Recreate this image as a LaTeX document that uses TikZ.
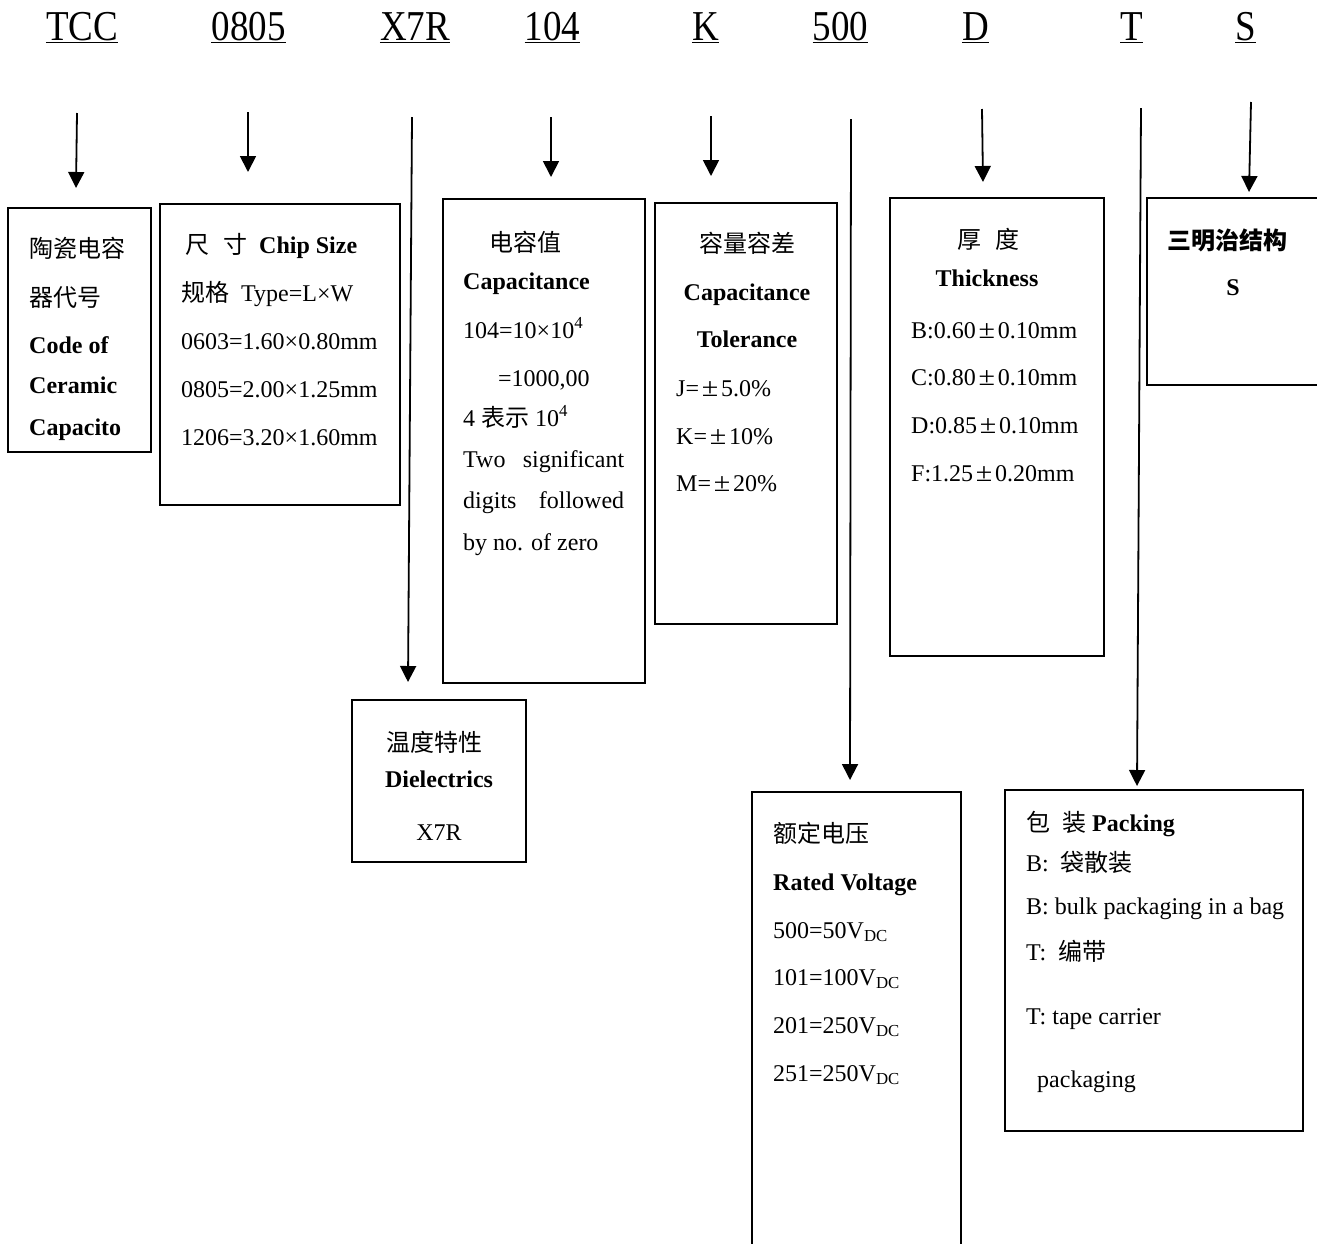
\documentclass[tikz,border=0pt]{standalone}
\usepackage{fontspec}
\usepackage{graphicx}
\setmainfont{Liberation Serif}
\newfontfamily\cjk{Noto Sans CJK SC}
\usetikzlibrary{arrows.meta}
\newcommand\bodyfs{\fontsize{24}{24}\selectfont}
\newcommand\pmw{\makebox[22pt]{\scalebox{1.25}[1.1]{±}}}
\newcommand\toplab[1]{\scalebox{1}[1.15]{#1}}
\begin{document}
\begin{tikzpicture}[x=1pt,y=-1pt,
  box/.style={draw, line width=1.6pt, inner sep=0pt, rectangle},
  tl/.style={anchor=base west, inner sep=0pt, font=\bodyfs},
  tc/.style={anchor=base, inner sep=0pt, font=\bodyfs},
  toplabel/.style={anchor=base, inner sep=0pt, font=\fontsize{37}{37}\selectfont},
  ul/.style={line width=1.8pt},
  arr/.style={line width=1.8pt, -{Triangle[length=16pt,width=16pt]}}
]
\useasboundingbox (0,0) rectangle (1317,1243);
\clip (0,0) rectangle (1317,1243);
\fill[white] (0,0) rectangle (1317,1243);

% top code labels
\node[toplabel] (lTCC) at (82,40) {\toplab{TCC}};
\node[toplabel] (l0805) at (248.5,40) {\toplab{0805}};
\node[toplabel] (lX7R) at (415,40) {\toplab{X7R}};
\node[toplabel] (l104) at (552.5,40) {\toplab{104}};
\node[toplabel] (lK) at (705.5,40) {\toplab{K}};
\node[toplabel] (l500) at (840.5,40) {\toplab{500}};
\node[toplabel] (lD) at (975.5,40) {\toplab{D}};
\node[toplabel] (lT) at (1131.5,40) {\toplab{T}};
\node[toplabel] (lS) at (1245.5,40) {\toplab{S}};
\foreach \n in {lTCC,l0805,lX7R,l104,lK,l500,lD,lT,lS}
  \draw[ul] ([yshift=-2.5pt]\n.base west) -- ([yshift=-2.5pt]\n.base east);

% boxes
\node[box, minimum width=143, minimum height=244] (bA) at (79.5,330) {};
\node[box, minimum width=240, minimum height=301] (bB) at (280,354.5) {};
\node[box, minimum width=202, minimum height=484] (bC) at (544,441) {};
\node[box, minimum width=182, minimum height=421] (bD) at (746,413.5) {};
\node[box, minimum width=214, minimum height=458] (bE) at (997,427) {};
\node[box, minimum width=193, minimum height=187] (bF) at (1243.5,291.5) {};
\node[box, minimum width=174, minimum height=162] (bG) at (439,781) {};
\node[box, minimum width=209, minimum height=488] (bH) at (856.5,1036) {};
\node[box, minimum width=298, minimum height=341] (bI) at (1154,960.5) {};

% arrows
\coordinate (s1) at (77,113);   \coordinate (e1) at (76,188);
\coordinate (s2) at (248,112);  \coordinate (e2) at (248,172);
\coordinate (s3) at (412,117);  \coordinate (e3) at (408,682);
\coordinate (s4) at (551,117);  \coordinate (e4) at (551,177);
\coordinate (s5) at (711,116);  \coordinate (e5) at (711,176);
\coordinate (s6) at (851,119);  \coordinate (e6) at (850,780);
\coordinate (s7) at (982,109);  \coordinate (e7) at (983,182);
\coordinate (s8) at (1141,108); \coordinate (e8) at (1137,786);
\coordinate (s9) at (1251,102); \coordinate (e9) at (1249,192);
\foreach \i in {1,...,9} \draw[arr] (s\i) -- (e\i);

% box A
\node[tl] (a1) at (29,257) {\cjk 陶瓷电容};
\node[tl] (a2) at (29,306) {\cjk 器代号};
\node[tl] (a3) at (29,353) {\textbf{Code of}};
\node[tl] (a4) at (29,393) {\textbf{Ceramic}};
\node[tl] (a5) at (29,435) {\textbf{Capacito}};

% box B
\node[tl] (b1) at (185,253) {{\cjk 尺}\hspace{14pt}{\cjk 寸}\hspace{12pt}\textbf{Chip Size}};
\node[tl] (b2) at (181,301) {{\cjk 规格}\hspace{12pt}Type=L×W};
\node[tl] (b3) at (181,349) {0603=1.60×0.80mm};
\node[tl] (b4) at (181,397) {0805=2.00×1.25mm};
\node[tl] (b5) at (181,445) {1206=3.20×1.60mm};

% box C
\node[tl] (c1) at (489,251) {\cjk 电容值};
\node[tl] (c2) at (463,289) {\textbf{Capacitance}};
\node[tl] (c3) at (463,338) {104=10×10\textsuperscript{4}};
\node[tl] (c4) at (498,386) {=1000,00};
\node[tl] (c5) at (463,426) {4 {\cjk 表示} 10\textsuperscript{4}};
\node[tl] (c6) at (463,467) {\hbox to 161pt{Two\hfill significant}};
\node[tl] (c7) at (463,508) {\hbox to 161pt{digits\hfill followed}};
\node[tl] (c8) at (463,550) {by no. of zero};

% box D
\node[tc] (d1) at (747,252) {\cjk 容量容差};
\node[tc] (d2) at (747,300) {\textbf{Capacitance}};
\node[tc] (d3) at (747,347) {\textbf{Tolerance}};
\node[tl] (d4) at (676,396) {J=\pmw5.0\%};
\node[tl] (d5) at (676,444) {K=\pmw10\%};
\node[tl] (d6) at (676,491) {M=\pmw20\%};

% box E
\node[tc] (e1t) at (988,248) {{\cjk 厚}\hspace{14pt}{\cjk 度}};
\node[tc] (e2t) at (987,286) {\textbf{Thickness}};
\node[tl] (e3t) at (911,338) {B:0.60\pmw0.10mm};
\node[tl] (e4t) at (911,385) {C:0.80\pmw0.10mm};
\node[tl] (e5t) at (911,433) {D:0.85\pmw0.10mm};
\node[tl] (e6t) at (911,481) {F:1.25\pmw0.20mm};

% box F
\node[tl] (f1) at (1167,249) {\cjk\bfseries 三明治结构};
\node[tc] (f2) at (1233,295) {\textbf{S}};

% box G
\node[tc] (g1) at (434,751) {\cjk 温度特性};
\node[tc] (g2) at (439,787) {\textbf{Dielectrics}};
\node[tc] (g3) at (439,840) {X7R};

% box H
\node[tl] (h1) at (773,842) {\cjk 额定电压};
\node[tl] (h2) at (773,890) {\textbf{Rated Voltage}};
\node[tl] (h3) at (773,938) {500=50V\textsubscript{DC}};
\node[tl] (h4) at (773,985) {101=100V\textsubscript{DC}};
\node[tl] (h5) at (773,1033) {201=250V\textsubscript{DC}};
\node[tl] (h6) at (773,1081) {251=250V\textsubscript{DC}};

% box I
\node[tl] (i1) at (1026,831) {{\cjk 包}\hspace{12pt}{\cjk 装}\hspace{6pt}\textbf{Packing}};
\node[tl] (i2) at (1026,871) {B:\hspace{12pt}{\cjk 袋散装}};
\node[tl] (i3) at (1026,914) {B: bulk packaging in a bag};
\node[tl] (i4) at (1026,960) {T:\hspace{12pt}{\cjk 编带}};
\node[tl] (i5) at (1026,1024) {T: tape carrier};
\node[tl] (i6) at (1037,1087) {packaging};
\end{tikzpicture}
\end{document}
